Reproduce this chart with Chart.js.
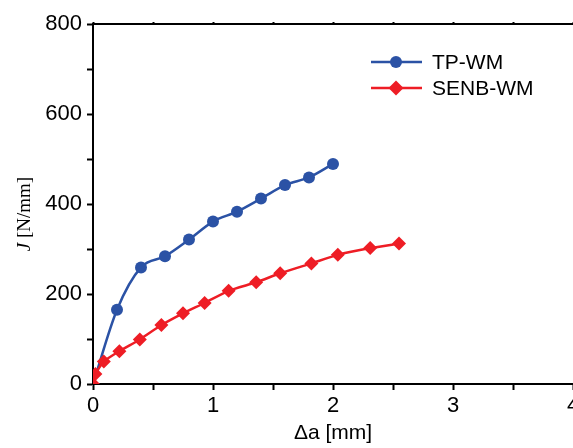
<!DOCTYPE html>
<html>
<head>
<meta charset="utf-8">
<script src="https://cdn.jsdelivr.net/npm/chart.js@4/dist/chart.umd.min.js"></script>
<style>
  body { margin: 0; background: #fff; }
  canvas { display: block; }
</style>
</head>
<body>
<canvas id="jChart" width="573" height="448"></canvas>
<script>
// crack extension [mm] vs J [N/mm]
const tpX = [0, 0.2, 0.4, 0.6, 0.8, 1.0, 1.2, 1.4, 1.6, 1.8, 2.0];
const tpJ = [0, 165, 259, 284, 321, 361, 383, 412, 442, 459, 489];

const senbX = [0, 0.02, 0.09, 0.22, 0.39, 0.57, 0.75, 0.93, 1.13, 1.36, 1.56, 1.82, 2.04, 2.31, 2.55];
const senbJ = [0, 22, 50, 73, 99, 131, 157, 180, 207, 226, 246, 268, 287, 302, 312];

const xTicks = [0, 1, 2, 3, 4];
const yTicks = [0, 200, 400, 600, 800];

const BLUE = '#2b52a5';
const RED = '#ee1d25';
const FONT = 'Liberation Sans, Arial, sans-serif';

function toPoints(xs, ys) {
    return xs.map((x, i) => ({ x: x, y: ys[i] }));
}

// legend with line + marker, like the original figure
const lineLegend = {
    id: 'lineLegend',
    afterDraw(chart) {
        const ctx = chart.ctx;
        const rows = [0, 1];
        ctx.save();
        rows.forEach((idx, row) => {
            const ds = chart.data.datasets[idx];
            const y = 62 + row * 26;
            ctx.strokeStyle = ds.borderColor;
            ctx.lineWidth = 2.5;
            ctx.beginPath();
            ctx.moveTo(371, y);
            ctx.lineTo(422, y);
            ctx.stroke();
            ctx.fillStyle = ds.backgroundColor;
            Chart.helpers.drawPoint(ctx, {
                pointStyle: ds.pointStyle,
                radius: ds.legendRadius,
                borderWidth: 0
            }, 396, y);
            ctx.fillStyle = '#000';
            ctx.font = '21px ' + FONT;
            ctx.textBaseline = 'middle';
            ctx.fillText(ds.label, 432, y + 1);
        });
        ctx.restore();
    }
};

// y title with italic J
const yTitle = {
    id: 'yTitle',
    afterDraw(chart) {
        const ctx = chart.ctx;
        ctx.save();
        ctx.translate(25, 214);
        ctx.rotate(-Math.PI / 2);
        ctx.fillStyle = '#000';
        ctx.textBaseline = 'middle';
        ctx.font = 'italic 19px Liberation Serif, serif';
        const a = 'J';
        const wa = ctx.measureText(a).width;
        ctx.font = '19px Liberation Serif, serif';
        const b = ' [N/mm]';
        const wb = ctx.measureText(b).width;
        const start = -(wa + wb) / 2;
        ctx.font = 'italic 19px Liberation Serif, serif';
        ctx.fillText(a, start, 0);
        ctx.font = '19px Liberation Serif, serif';
        ctx.fillText(b, start + wa, 0);
        ctx.restore();
    }
};

new Chart(document.getElementById('jChart'), {
    type: 'line',
    data: {
        datasets: [{
            label: 'TP-WM',
            data: toPoints(tpX, tpJ),
            borderColor: BLUE,
            backgroundColor: BLUE,
            borderWidth: 2.5,
            pointStyle: 'circle',
            pointRadius: ctx => ctx.dataIndex === 0 ? 0 : 6,
            legendRadius: 6,
            pointBorderWidth: 0,
            cubicInterpolationMode: 'monotone',
            order: 1
        }, {
            label: 'SENB-WM',
            data: toPoints(senbX, senbJ),
            borderColor: RED,
            backgroundColor: RED,
            borderWidth: 2.5,
            pointStyle: 'rectRot',
            pointRadius: 7,
            legendRadius: 7.5,
            pointBorderWidth: 0,
            tension: 0.2,
            order: 0
        }]
    },
    options: {
        responsive: false,
        animation: false,
        devicePixelRatio: 1,
        layout: { padding: 0, autoPadding: false },
        plugins: {
            legend: { display: false },
            tooltip: { enabled: false }
        },
        scales: {
            x: {
                type: 'linear',
                position: 'bottom',
                min: 0,
                max: 4,
                afterFit(scale) {
                    scale.height = 64;
                    scale.paddingLeft = 0;
                    scale.paddingRight = 0;
                },
                ticks: {
                    stepSize: 0.5,
                    maxRotation: 0,
                    autoSkip: false,
                    padding: 3,
                    color: '#000',
                    font: { family: FONT, size: 22 },
                    callback: v => xTicks.includes(v) ? String(v) : ''
                },
                grid: {
                    drawOnChartArea: false,
                    tickLength: 6,
                    tickColor: '#000',
                    tickWidth: 2
                },
                border: { color: '#000', width: 2 },
                title: {
                    display: true,
                    text: 'Δa [mm]',
                    color: '#000',
                    font: { family: FONT, size: 21 },
                    padding: { top: 0, bottom: 2 }
                }
            },
            x2: {
                type: 'linear',
                position: 'top',
                min: 0,
                max: 4,
                afterFit(scale) {
                    scale.height = 24;
                    scale.paddingLeft = 0;
                    scale.paddingRight = 0;
                },
                ticks: { display: false, stepSize: 0.5 },
                grid: {
                    drawOnChartArea: false,
                    tickLength: 2,
                    tickColor: '#000',
                    tickWidth: 2
                },
                border: { color: '#000', width: 2 }
            },
            y: {
                min: 0,
                max: 800,
                afterFit(scale) {
                    scale.width = 93;
                    scale.paddingTop = 0;
                    scale.paddingBottom = 0;
                },
                ticks: {
                    stepSize: 100,
                    autoSkip: false,
                    padding: 5,
                    color: '#000',
                    font: { family: FONT, size: 22 },
                    callback: v => yTicks.includes(v) ? String(v) : ''
                },
                grid: {
                    drawOnChartArea: false,
                    tickLength: 6,
                    tickColor: '#000',
                    tickWidth: 2
                },
                border: { color: '#000', width: 2 }
            }
        }
    },
    plugins: [lineLegend, yTitle]
});
</script>
</body>
</html>
